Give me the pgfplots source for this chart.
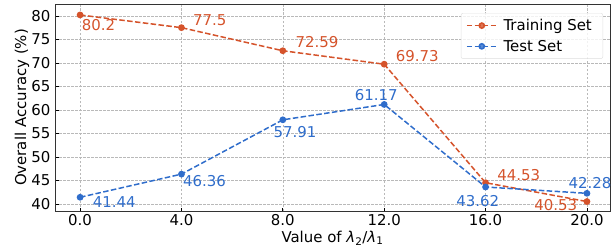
\documentclass[border=0pt]{standalone}
\usepackage{fontspec}
\setmainfont{DejaVu Sans}
\usepackage{pgfplots}
\pgfplotsset{compat=1.18}
\definecolor{trainc}{HTML}{D5532B}
\definecolor{testc}{HTML}{2F6DCB}
\definecolor{framec}{HTML}{333333}
\begin{document}
\begin{tikzpicture}[x=1bp,y=1bp]
\begin{axis}[
  scale only axis,
  width=555bp, height=207bp,
  xmin=-0.99, xmax=20.91, ymin=38.52, ymax=82.53,
  xtick={0,4,8,12,16,20},
  xticklabels={0.0,4.0,8.0,12.0,16.0,20.0},
  ytick={40,45,50,55,60,65,70,75,80},
  /pgf/number format/assume math mode=true,
  tick label style={font=\fontsize{15}{17}\selectfont},
  yticklabel style={xshift=-1bp},
  label style={font=\fontsize{15}{17}\selectfont},
  grid=major,
  major grid style={dash pattern=on 2.5bp off 1.5bp, gray!55, line width=0.6bp},
  axis line style={framec, line width=1bp},
  tick style={black, line width=0.8bp},
  major tick length=3.5bp,
  tick pos=left,
  xlabel={Value of \textit{λ}\textsubscript{2}/\textit{λ}\textsubscript{1}},
  ylabel={Overall Accuracy (\%)},
  xlabel style={at={(axis description cs:0.5,-0.13)}, anchor=center},
  ylabel style={at={(axis description cs:-0.0595,0.5)}, anchor=center},
  legend style={at={(0.9874,0.9565)}, anchor=north east, font=\fontsize{15}{17}\selectfont, draw=gray!25, rounded corners=2pt, fill=white, fill opacity=0.8, text opacity=1, row sep=4bp, inner xsep=5bp, inner ysep=4bp, nodes={inner xsep=6bp}},
  legend cell align=left,
  legend image code/.code={\draw[mark repeat=2,mark phase=2,#1] plot coordinates {(0bp,0bp) (15bp,0bp) (30bp,0bp)};},
  nodes near coords,
  point meta=explicit symbolic,
  every node near coord/.append style={font=\fontsize{15}{17}\selectfont, inner sep=0pt, anchor=\myanchor, xshift=\mydx, yshift=\mydy},
  visualization depends on={value \thisrow{anc} \as \myanchor},
  visualization depends on={value \thisrow{dx} \as \mydx},
  visualization depends on={value \thisrow{dy} \as \mydy},
]
\addplot[trainc, dash pattern=on 5.5bp off 2.4bp, line width=1.5bp, mark=*, mark size=2.6bp, mark options={solid},
  nodes near coords style={trainc}]
  table[meta=lab] {
x y lab anc dx dy
0 80.2 80.2 {north west} 1bp -4bp
4 77.5 77.5 {south west} 11bp 1bp
8 72.59 72.59 {south west} 12bp 2bp
12 69.73 69.73 {south west} 11bp 2bp
16 44.53 44.53 {south west} 11bp 1bp
20 40.53 40.53 {south east} -9bp -10bp
};
\addlegendentry{Training Set}
\addplot[testc, dash pattern=on 5.5bp off 2.4bp, line width=1.5bp, mark=*, mark size=2.6bp, mark options={solid},
  nodes near coords style={testc}]
  table[meta=lab] {
x y lab anc dx dy
0 41.44 41.44 {north west} 12bp 1bp
4 46.36 46.36 {north west} 1bp -1bp
8 57.91 57.91 {north west} -10bp -6bp
12 61.17 61.17 {south west} -30bp 3bp
16 43.62 43.62 {north west} -30bp -8bp
20 42.28 42.28 {south west} -19bp 4bp
};
\addlegendentry{Test Set}
\end{axis}
\pgfresetboundingbox
\path (current axis.south west) ++(-55bp,-37bp) rectangle ++(614bp,248bp);
\end{tikzpicture}
\end{document}
